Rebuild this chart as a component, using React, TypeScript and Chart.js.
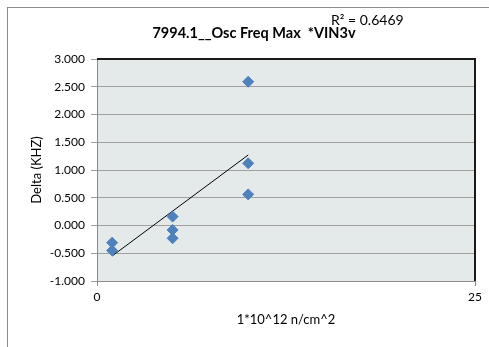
import React, { useEffect, useRef } from "react";
import { Chart, registerables } from "chart.js";

Chart.register(...registerables);

const xValues = [1, 1, 5, 5, 5, 10, 10, 10];
const yValues = [-0.31, -0.45, 0.16, -0.08, -0.23, 0.56, 1.12, 2.59];
const trendX = [1, 10];
const trendY = [-0.55, 1.27];
const chartTitle = "7994.1__Osc Freq Max  *VIN3v";
const rSquaredLabel = "R² = 0.6469";
const xTitle = "1*10^12 n/cm^2";
const yTitle = "Delta (KHZ)";
const yMin = -1;
const yMax = 3;
const yStep = 0.5;
const xMin = 0;
const xMax = 25;

const FONT = "Lato, 'Open Sans', sans-serif";

const decorPlugin = {
  id: "decor",
  beforeDraw(chart: any) {
    const { ctx, chartArea } = chart;
    ctx.save();
    ctx.fillStyle = "#ffffff";
    ctx.fillRect(0, 0, chart.width, chart.height);
    ctx.strokeStyle = "#8c8c8c";
    ctx.lineWidth = 1;
    ctx.strokeRect(7.5, 7.5, chart.width + 20, chart.height + 20);
    ctx.fillStyle = "#E4EAEA";
    ctx.fillRect(chartArea.left, chartArea.top, chartArea.right - chartArea.left, chartArea.bottom - chartArea.top);
    ctx.restore();
  },
  afterDatasetsDraw(chart: any) {
    const { ctx, chartArea } = chart;
    ctx.save();
    ctx.strokeStyle = "#1a1a1a";
    ctx.lineWidth = 2;
    ctx.beginPath();
    ctx.moveTo(chartArea.left, chartArea.top);
    ctx.lineTo(chartArea.right, chartArea.top);
    ctx.lineTo(chartArea.right, chartArea.bottom);
    ctx.stroke();
    ctx.fillStyle = "#000000";
    ctx.textAlign = "center";
    ctx.textBaseline = "middle";
    ctx.font = `bold 14.5px ${FONT}`;
    ctx.fillText(chartTitle, 254, 33);
    ctx.font = `14px ${FONT}`;
    ctx.textAlign = "left";
    ctx.fillText(rSquaredLabel, 331, 20);
    ctx.restore();
  },
};

export default function App() {
  const ref = useRef<HTMLCanvasElement | null>(null);
  useEffect(() => {
    if (!ref.current) return;
    const chart = new Chart(ref.current, {
      type: "scatter",
      data: {
        datasets: [
          {
            label: "data",
            data: xValues.map((x, i) => ({ x, y: yValues[i] })),
            pointStyle: "rectRot",
            pointRadius: 5.5,
            backgroundColor: "#4F81BD",
            borderColor: "#4F81BD",
            borderWidth: 1,
            showLine: false,
          },
          {
            label: "trend",
            data: trendX.map((x, i) => ({ x, y: trendY[i] })),
            showLine: true,
            borderColor: "#000000",
            borderWidth: 1,
            pointRadius: 0,
          },
        ],
      },
      plugins: [decorPlugin],
      options: {
        animation: false,
        responsive: false,
        maintainAspectRatio: false,
        layout: { padding: { left: 0, top: 59, right: 14, bottom: 0 } },
        plugins: {
          legend: { display: false },
          tooltip: { enabled: false },
          title: { display: false },
        },
        scales: {
          x: {
            type: "linear",
            min: xMin,
            max: xMax,
            afterFit: (s: any) => {
              s.height = 66;
            },
            ticks: {
              stepSize: 25,
              color: "#000",
              font: { family: FONT, size: 12 },
              padding: 4,
            },
            grid: { drawOnChartArea: false, tickLength: 5, color: "#8c8c8c" },
            border: { display: true, color: "#8c8c8c", width: 1 },
            title: {
              display: true,
              text: xTitle,
              color: "#000",
              font: { family: FONT, size: 13 },
              padding: { top: 0, bottom: 19 },
            },
          },
          y: {
            type: "linear",
            min: yMin,
            max: yMax,
            afterFit: (s: any) => {
              s.width = 97;
            },
            ticks: {
              stepSize: yStep,
              color: "#000",
              font: { family: FONT, size: 12 },
              padding: 6,
              callback: (v: any) => Number(v).toFixed(3),
            },
            grid: { color: "#A0A0A0", tickLength: 6, lineWidth: 1 },
            border: { display: true, color: "#8c8c8c", width: 1 },
            title: {
              display: true,
              text: yTitle,
              color: "#000",
              font: { family: FONT, size: 13 },
              padding: { top: 29, bottom: 0 },
            },
          },
        },
      },
    });
    return () => chart.destroy();
  }, []);
  return (
    <div style={{ position: "fixed", left: 0, top: 0, width: 489, height: 347 }}>
      <canvas ref={ref} width={489} height={347} style={{ display: "block" }} />
    </div>
  );
}
